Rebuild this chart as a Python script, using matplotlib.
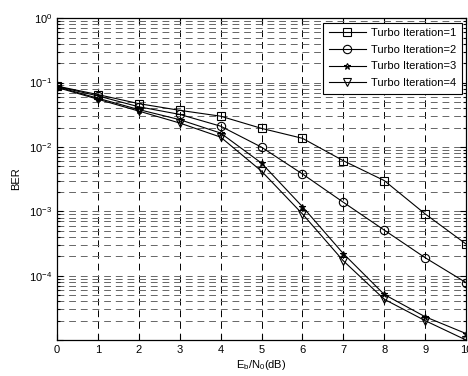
import matplotlib
matplotlib.use("Agg")
import matplotlib.pyplot as plt
import numpy as np
from matplotlib.ticker import LogLocator, NullFormatter, FuncFormatter

plt.rcParams["font.family"] = ["Liberation Sans", "DejaVu Sans"]
plt.rcParams["mathtext.fontset"] = "custom"
plt.rcParams["mathtext.rm"] = "Liberation Sans"
plt.rcParams["mathtext.it"] = "Liberation Sans"

# Eb/N0 in dB
ebn0 = [0, 1, 2, 3, 4, 5, 6, 7, 8, 9, 10]

# BER per turbo iteration
ber_it1 = [0.088, 0.065, 0.047, 0.037, 0.030, 0.0194, 0.0136, 0.0061, 0.0030, 0.00091, 0.00031]
ber_it2 = [0.087, 0.062, 0.042, 0.032, 0.021, 0.0099, 0.0038, 0.00138, 0.00051, 0.00019, 0.000078]
ber_it3 = [0.086, 0.057, 0.038, 0.0265, 0.0164, 0.0056, 0.00118, 0.00022, 0.000051, 0.000023, 0.0000126]
ber_it4 = [0.084, 0.055, 0.036, 0.0235, 0.0142, 0.0042, 0.00091, 0.00017, 0.000043, 0.00002, 0.00001]

labels = ["Turbo Iteration=1", "Turbo Iteration=2", "Turbo Iteration=3", "Turbo Iteration=4"]
markers = ["s", "o", "*", "v"]

fig = plt.figure(figsize=(4.68, 3.76), dpi=100)
ax = fig.add_axes([0.1218, 0.0957, 0.874, 0.856])

for ber, lab, mk in zip([ber_it1, ber_it2, ber_it3, ber_it4], labels, markers):
    ms = 6 if mk != "*" else 5
    ax.semilogy(ebn0, ber, color="black", linewidth=0.8, marker=mk, markersize=ms,
                markerfacecolor="none", markeredgecolor="black", markeredgewidth=0.8,
                label=lab)

ax.set_xlim(0, 10)
ax.set_ylim(1e-5, 1)
ax.set_xticks(range(0, 11))
ax.yaxis.set_major_locator(LogLocator(base=10, numticks=10))
ax.yaxis.set_minor_locator(LogLocator(base=10, subs=np.arange(2, 10), numticks=20))
ax.yaxis.set_minor_formatter(NullFormatter())


def fmt_pow(v, pos):
    # the bottom decade carries no label in the original
    if v < 2e-5:
        return ""
    return r"$\mathregular{10^{%d}}$" % int(round(np.log10(v)))


ax.yaxis.set_major_formatter(FuncFormatter(fmt_pow))

ax.grid(True, which="major", axis="x", color="black", linestyle=(0, (7, 5)), linewidth=0.7)
ax.grid(True, which="both", axis="y", color="0.4", linestyle=(0, (7, 5)), linewidth=0.7)

ax.tick_params(which="both", direction="in", top=True, right=True, labelsize=8, width=0.8)
ax.tick_params(which="major", length=4)
ax.tick_params(which="minor", length=2)
for s in ax.spines.values():
    s.set_linewidth(0.9)

ax.set_xlabel(r"E$_\mathregular{b}$/N$_\mathregular{0}$(dB)", fontsize=8, labelpad=2)
ax.set_ylabel("BER", fontsize=8, labelpad=6)

leg = ax.legend(loc="upper right", fontsize=8, fancybox=False, framealpha=1,
                edgecolor="black", handlelength=3.4, handletextpad=0.4,
                borderaxespad=0.4, labelspacing=0.6, borderpad=0.5)
leg.get_frame().set_linewidth(0.8)

fig.savefig("out.png", dpi=100)
